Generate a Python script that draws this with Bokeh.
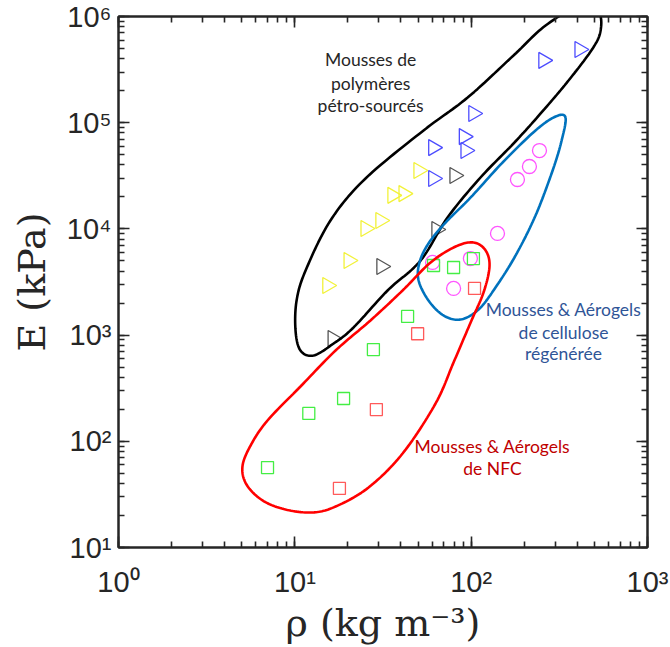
import numpy as np
from bokeh.plotting import figure
from bokeh.models import LogAxis, LogTicker, CustomJSTickFormatter
from bokeh.core.properties import value
from bokeh.embed import file_html
from bokeh.resources import INLINE

# ---------------- data (rho in kg m^-3, E in kPa) ----------------
blue_rho = [61, 61, 91, 93, 103, 257, 412]
blue_E = [2.98e4, 5.83e4, 7.4e4, 5.47e4, 1.22e5, 3.86e5, 4.89e5]

gray_rho = [16.4, 31, 63.6, 80.5]
gray_E = [929, 4.43e3, 9.86e3, 3.18e4]

yellow_rho = [15.3, 20.2, 25.2, 30.6, 35.8, 41.4, 50.3]
yellow_E = [2.93e3, 5.04e3, 1.01e4, 1.2e4, 2.07e4, 2.15e4, 3.55e4]

magenta_rho = [60.4, 79.5, 99, 141, 183, 214, 244]
magenta_E = [4.83e3, 2.75e3, 5.26e3, 9.06e3, 2.92e4, 3.87e4, 5.47e4]

green_rho = [7.0, 12, 18.9, 27.9, 43.6, 61.2, 79.5, 103]
green_E = [56.6, 183, 253, 731, 1.5e3, 4.52e3, 4.33e3, 5.26e3]

red_rho = [17.9, 29, 49.7, 104.5]
red_E = [36, 199, 1.03e3, 2.75e3]

# hand-drawn envelopes, vertices in decades (log10 rho, log10 E)
black_log_rho = [2.734, 2.689, 2.552, 2.394, 2.240, 2.053, 1.866, 1.713, 1.526, 1.333,
                 1.220, 1.106, 1.032, 1.004, 1.010, 1.061, 1.202, 1.401, 1.730, 1.980,
                 2.240, 2.422, 2.621, 2.723]
black_log_E = [5.868, 5.699, 5.397, 5.087, 4.804, 4.484, 4.107, 3.702, 3.420, 3.072,
               2.921, 2.808, 2.855, 3.043, 3.326, 3.608, 4.079, 4.475, 4.927, 5.237,
               5.633, 5.915, 6.104, 6.038]

blue_log_rho = [2.535, 2.513, 2.462, 2.365, 2.252, 2.138, 2.042, 1.940, 1.843, 1.758,
                1.702, 1.707, 1.758, 1.855, 1.997, 2.178, 2.365, 2.479]
blue_log_E = [5.049, 4.832, 4.550, 4.126, 3.750, 3.448, 3.241, 3.147, 3.185, 3.326,
              3.514, 3.684, 3.863, 4.060, 4.296, 4.625, 4.927, 5.058]

red_log_rho = [2.014, 2.082, 2.104, 2.070, 1.997, 1.900, 1.798, 1.611, 1.418, 1.231,
               1.100, 0.947, 0.817, 0.726, 0.703, 0.749, 0.845, 1.032, 1.231, 1.429,
               1.611, 1.770, 1.912]
red_log_E = [3.872, 3.797, 3.646, 3.401, 3.119, 2.742, 2.356, 1.885, 1.565, 1.386,
             1.330, 1.358, 1.443, 1.593, 1.763, 1.960, 2.196, 2.516, 2.855, 3.138,
             3.420, 3.684, 3.834]

x_label = "ρ (kg m⁻³)"
y_label = "E (kPa)"
text_polymer = ["Mousses de", "polymères", "pétro-sourcés"]
text_cellulose = ["Mousses & Aérogels", "de cellulose", "régénérée"]
text_nfc = ["Mousses & Aérogels", "de NFC"]


def smooth_closed(lx, ly, n=14):
    P = np.column_stack([lx, ly])
    m = len(P)
    out = []
    for i in range(m):
        p0, p1, p2, p3 = P[(i - 1) % m], P[i], P[(i + 1) % m], P[(i + 2) % m]
        for t in np.linspace(0, 1, n, endpoint=False):
            t2, t3 = t * t, t * t * t
            out.append(0.5 * ((2 * p1) + (-p0 + p2) * t
                              + (2 * p0 - 5 * p1 + 4 * p2 - p3) * t2
                              + (-p0 + 3 * p1 - 3 * p2 + p3) * t3))
    out.append(out[0])
    out = np.array(out)
    return list(10 ** out[:, 0]), list(10 ** out[:, 1])


p = figure(width=670, height=647, x_axis_type="log", y_axis_type="log",
           x_range=(1, 1000), y_range=(10, 1e6),
           output_backend="svg", toolbar_location=None,
           min_border_left=118, min_border_right=23, min_border_top=16, min_border_bottom=100)
p.grid.visible = False
p.outline_line_color = "#262626"
p.outline_line_width = 2
p.background_fill_color = "white"
p.border_fill_color = "white"

bottom = p.below[0]
left = p.left[0]

sup_code = """
const sup = {'0':'\u2070','1':'\u00b9','2':'\u00b2','3':'\u00b3','4':'\u2074','5':'\u2075','6':'\u2076','7':'\u2077','8':'\u2078','9':'\u2079','-':'\u207b'};
const e = Math.round(Math.log10(tick));
return '10' + String(e).split('').map(c => sup[c]).join('');
"""

bottom.ticker = LogTicker(num_minor_ticks=10)
left.ticker = LogTicker(num_minor_ticks=10)
bottom.formatter = CustomJSTickFormatter(code=sup_code)
left.formatter = CustomJSTickFormatter(code=sup_code)

top = LogAxis(ticker=LogTicker(num_minor_ticks=10), major_label_text_font_size="1px",
              major_label_text_alpha=0, major_label_standoff=0)
right = LogAxis(ticker=LogTicker(num_minor_ticks=10), major_label_text_font_size="1px",
                major_label_text_alpha=0, major_label_standoff=0)
p.add_layout(top, "above")
p.add_layout(right, "right")

for ax in [bottom, left, top, right]:
    ax.axis_line_color = "#262626"
    ax.axis_line_width = 2
    ax.major_tick_line_color = "#262626"
    ax.major_tick_line_width = 1.6
    ax.minor_tick_line_color = "#262626"
    ax.minor_tick_line_width = 1.6
    ax.major_tick_in = 11
    ax.major_tick_out = 0
    ax.minor_tick_in = 6
    ax.minor_tick_out = 0

for ax in [bottom, left]:
    ax.major_label_text_font = "Liberation Sans"
    ax.major_label_text_font_size = "29px"
    ax.major_label_text_color = "#262626"
    ax.axis_label_text_font = "DejaVu Serif"
    ax.axis_label_text_font_style = "normal"
    ax.axis_label_text_font_size = "38px"
    ax.axis_label_text_color = "#262626"

bottom.axis_label = x_label
left.axis_label = y_label
bottom.major_label_standoff = 18
left.major_label_standoff = 7
bottom.axis_label_standoff = 0
left.axis_label_standoff = 10

# markers
tri = dict(marker="triangle", angle=-np.pi / 2, size=16, fill_color=None, line_width=1.3)
p.scatter(yellow_rho, yellow_E, line_color="#f2f23a", **tri)
p.scatter(gray_rho, gray_E, line_color="#555555", **tri)
p.scatter(blue_rho, blue_E, line_color="#4d4dff", **tri)
p.scatter(magenta_rho, magenta_E, marker="circle", size=14, fill_color=None,
          line_color="#ff55ff", line_width=1.3)
p.scatter(green_rho, green_E, marker="square", size=12, fill_color=None,
          line_color="#44ee44", line_width=1.3)
p.scatter(red_rho, red_E, marker="square", size=12, fill_color=None,
          line_color="#ff5a5a", line_width=1.3)

# envelopes
for lx, ly, col in [(black_log_rho, black_log_E, "#000000"),
                    (blue_log_rho, blue_log_E, "#0072bd"),
                    (red_log_rho, red_log_E, "#ff0000")]:
    xs, ys = smooth_closed(lx, ly)
    p.line(xs, ys, line_color=col, line_width=2.6)

# annotations
tf = value("Lato")
fs = "17.5px"
p.text(x=[26.9] * 3, y=[10 ** 5.595, 10 ** 5.369, 10 ** 5.162], text=text_polymer,
       text_font=tf, text_font_size=fs, text_align="center", text_baseline="middle",
       text_color="#262626")
p.text(x=[334] * 3, y=[10 ** 3.241, 10 ** 3.024, 10 ** 2.827], text=text_cellulose,
       text_font=tf, text_font_size=fs, text_align="center", text_baseline="middle",
       text_color="#2f5597")
p.text(x=[132] * 2, y=[10 ** 1.951, 10 ** 1.744], text=text_nfc,
       text_font=tf, text_font_size=fs, text_align="center", text_baseline="middle",
       text_color="#c00000")

open("out.html", "w").write(file_html(p, INLINE))
